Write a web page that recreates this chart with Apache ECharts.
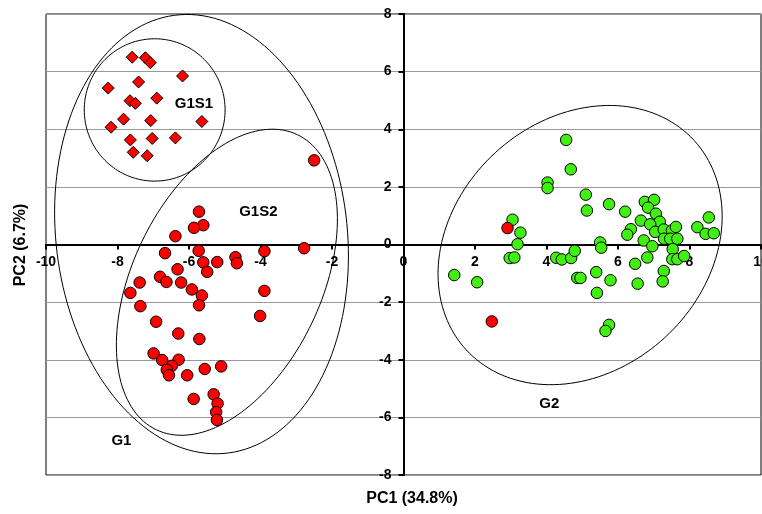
<!DOCTYPE html>
<html><head><meta charset="utf-8">
<script src="https://cdn.jsdelivr.net/npm/echarts@6/dist/echarts.min.js"></script>
<style>html,body{margin:0;padding:0;background:#fff}#c{width:762px;height:514px}</style>
</head><body><div id="c"></div>
<script>
// G1S1 subgroup (red diamonds) [PC1, PC2]
const g1s1Points = [
  [-7.59,6.50],[-7.22,6.48],[-7.08,6.31],[-6.18,5.85],[-8.26,5.43],[-7.41,5.64],
  [-7.65,4.99],[-7.50,4.90],[-6.90,5.08],[-7.83,4.35],[-8.18,4.07],[-7.07,4.30],
  [-5.64,4.27],[-7.64,3.63],[-7.03,3.68],[-6.38,3.70],[-7.56,3.20],[-7.17,3.08]
];
// G1S2 subgroup (red circles)
const g1s2Points = [
  [-2.50,2.92],[-5.72,1.14],[-5.60,0.67],[-5.86,0.58],[-6.38,0.29],[-5.73,-0.22],
  [-6.67,-0.30],[-3.89,-0.23],[-2.78,-0.13],[-5.60,-0.62],[-5.21,-0.61],[-4.70,-0.44],
  [-4.66,-0.65],[-5.49,-0.95],[-6.32,-0.86],[-6.81,-1.12],[-6.63,-1.30],[-7.38,-1.32],
  [-6.22,-1.32],[-5.92,-1.56],[-7.64,-1.68],[-5.64,-1.77],[-3.89,-1.61],[-7.36,-2.14],
  [-5.72,-2.11],[-6.92,-2.68],[-4.01,-2.48],[-6.30,-3.09],[-5.71,-3.28],[-6.99,-3.78],
  [-6.75,-4.01],[-6.29,-4.00],[-6.48,-4.21],[-6.62,-4.35],[-6.56,-4.54],[-6.05,-4.54],
  [-5.56,-4.32],[-5.10,-4.23],[-5.87,-5.36],[-5.31,-5.20],[-5.20,-5.52],[-5.24,-5.82],
  [-5.22,-6.09]
];
// red circles lying inside G2
const redOutliers = [[2.91,0.57],[2.47,-2.67]];
// G2 group (green circles)
const g2Points = [
  [4.55,3.63],[4.68,2.61],[4.03,2.15],[4.03,1.96],[5.10,1.73],[5.13,1.18],[5.75,1.40],
  [6.20,1.14],[6.75,1.48],[7.01,1.55],[6.84,1.28],[7.06,1.07],[6.64,0.83],[7.17,0.79],
  [6.90,0.70],[6.36,0.53],[6.26,0.34],[7.04,0.44],[7.28,0.52],[7.51,0.49],[7.62,0.61],
  [6.72,0.14],[7.29,0.20],[7.46,0.20],[7.66,0.20],[6.96,-0.06],[7.53,-0.16],[8.22,0.60],
  [8.54,0.94],[8.45,0.37],[8.68,0.39],[5.50,0.07],[5.53,-0.11],[3.05,0.86],[3.27,0.41],
  [3.19,0.01],[1.42,-1.06],[2.06,-1.31],[2.97,-0.47],[3.10,-0.45],[4.27,-0.46],[4.43,-0.52],
  [4.69,-0.47],[4.79,-0.22],[4.86,-1.16],[4.95,-1.16],[5.39,-0.96],[5.79,-1.24],[5.41,-1.68],
  [5.75,-2.79],[5.65,-3.00],[6.48,-0.67],[6.55,-1.36],[6.82,-0.45],[7.28,-0.92],[7.25,-1.28],
  [7.52,-0.51],[7.66,-0.51],[7.85,-0.40]
];
// group ellipses: [centerX, centerY, axis1X, axis1Y, axis2X, axis2Y] in data units
const groupEllipses = [
  [-6.96, 4.67, 1.97, 0, 0, 2.47],
  [-5.65, 0.36, -0.28, 7.62, 4.10, -0.231],
  [-4.94, -1.31, 1.975, 5.12, 2.378, -1.413],
  [4.94, -0.02, 3.19, 3.63, 2.37, -3.21]
];
// group labels: [text, PC1, PC2]
const groupLabels = [
  ['G1S1', -5.86, 4.88],
  ['G1S2', -4.06, 1.12],
  ['G1', -7.89, -6.83],
  ['G2', 4.08, -5.54]
];
const xRange = [-10, 10];
const yRange = [-8, 8];
const xAxisTitle = 'PC1 (34.8%)';
const yAxisTitle = 'PC2 (6.7%)';

const W = 762, H = 514;
const G = {left: 46, right: 1, top: 14, bottom: 39};
const gw = W - G.left - G.right, gh = H - G.top - G.bottom;
// move the axes so they cross at the origin (labels and ticks follow)
const xOffset = -gh * (0 - yRange[0]) / (yRange[1] - yRange[0]);
const yOffset = -gw * (0 - xRange[0]) / (xRange[1] - xRange[0]);

const F = '"Liberation Sans", Arial, Helvetica, sans-serif';
const chart = echarts.init(document.getElementById('c'), null, {renderer: 'canvas'});
const axisCommon = {
  type: 'value',
  interval: 2,
  axisLine: {show: true, onZero: false, lineStyle: {color: '#000', width: 2}},
  axisTick: {show: true, inside: false, length: 5, lineStyle: {color: '#000', width: 2}},
  axisLabel: {color: '#000', fontWeight: 'bold', fontSize: 14, fontFamily: F}
};
const option = {
  animation: false,
  backgroundColor: '#fff',
  grid: Object.assign({show: true, borderColor: '#000', borderWidth: 1,
         containLabel: false, outerBoundsMode: 'none'}, G),
  xAxis: Object.assign({}, axisCommon, {
    min: xRange[0], max: xRange[1], position: 'bottom', offset: xOffset,
    axisLabel: Object.assign({}, axisCommon.axisLabel, {margin: 11}),
    splitLine: {show: false}
  }),
  yAxis: Object.assign({}, axisCommon, {
    min: yRange[0], max: yRange[1], position: 'left', offset: yOffset,
    axisLabel: Object.assign({}, axisCommon.axisLabel, {margin: 12}),
    splitLine: {show: true, lineStyle: {color: '#9a9a9a', width: 1}}
  }),
  graphic: [
    {type: 'text', x: 412, y: 499, z: 100,
     style: {text: xAxisTitle, fill: '#000', fontSize: 16, fontWeight: 'bold', fontFamily: F,
             align: 'center', verticalAlign: 'middle'}},
    {type: 'text', x: 21, y: 245, rotation: Math.PI / 2, z: 100,
     style: {text: yAxisTitle, fill: '#000', fontSize: 16, fontWeight: 'bold', fontFamily: F,
             align: 'center', verticalAlign: 'middle'}}
  ],
  series: [
    {
      type: 'custom', z: 1, silent: true,
      data: groupEllipses,
      encode: {x: 0, y: 1},
      renderItem: function (params, api) {
        const cx = api.value(0), cy = api.value(1);
        const ux = api.value(2), uy = api.value(3), vx = api.value(4), vy = api.value(5);
        const pts = [];
        const n = 160;
        for (let i = 0; i < n; i++) {
          const t = i / n * Math.PI * 2;
          pts.push(api.coord([cx + ux * Math.cos(t) + vx * Math.sin(t),
                              cy + uy * Math.cos(t) + vy * Math.sin(t)]));
        }
        return {type: 'polygon', shape: {points: pts},
                style: {fill: 'none', stroke: '#000', lineWidth: 1}};
      }
    },
    {
      type: 'custom', z: 5, silent: true,
      data: groupLabels.map(l => [l[1], l[2]]),
      encode: {x: 0, y: 1},
      renderItem: function (params, api) {
        const p = api.coord([api.value(0), api.value(1)]);
        return {type: 'text', x: p[0], y: p[1],
                style: {text: groupLabels[params.dataIndex][0], fill: '#000', fontSize: 15,
                        fontWeight: 'bold', fontFamily: F, align: 'center', verticalAlign: 'middle'}};
      }
    },
    {type: 'scatter', name: 'G1S1', data: g1s1Points, symbol: 'diamond', symbolSize: 12, z: 3,
     itemStyle: {color: '#ff0000', borderColor: '#000', borderWidth: 1, opacity: 1}},
    {type: 'scatter', name: 'G1S2', data: g1s2Points, symbol: 'circle', symbolSize: 11.5, z: 3,
     itemStyle: {color: '#ff0000', borderColor: '#000', borderWidth: 1, opacity: 1}},
    {type: 'scatter', name: 'G2', data: g2Points, symbol: 'circle', symbolSize: 11.5, z: 3,
     itemStyle: {color: '#40f010', borderColor: '#000', borderWidth: 1, opacity: 1}},
    {type: 'scatter', name: 'outliers', data: redOutliers, symbol: 'circle', symbolSize: 11.5, z: 3,
     itemStyle: {color: '#ff0000', borderColor: '#000', borderWidth: 1, opacity: 1}}
  ]
};
chart.setOption(option);
</script>
</body></html>
